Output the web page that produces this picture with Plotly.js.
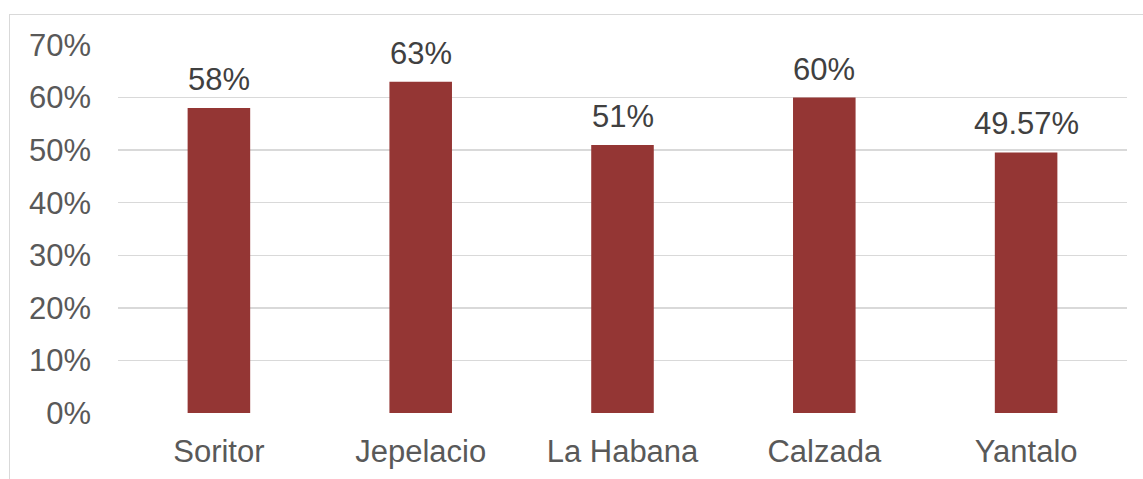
<!DOCTYPE html>
<html>
<head>
<meta charset="utf-8">
<script src="https://cdn.plot.ly/plotly-3.0.1.min.js"></script>
<style>
  html, body { margin: 0; padding: 0; background: #ffffff; overflow: hidden; }
  #frame { position: absolute; left: 9px; top: 14px; width: 1200px; height: 500px;
           border-left: 1.5px solid #d9d9d9; border-top: 1.5px solid #d9d9d9; }
  #chart { position: absolute; left: 0; top: 0; width: 1143px; height: 479px; }
</style>
</head>
<body>
<div id="frame"></div>
<div id="chart"></div>
<script>
const categories = ["Soritor", "Jepelacio", "La Habana", "Calzada", "Yantalo"];
const values = [58, 63, 51, 60, 49.57];
const valueLabels = ["58%", "63%", "51%", "60%", "49.57%"];
const tickValues = [0, 10, 20, 30, 40, 50, 60, 70];
const tickLabels = ["0%", "10%", "20%", "30%", "40%", "50%", "60%", "70%"];

const FONT = "'Liberation Sans', Arial, sans-serif";

const trace = {
  type: "bar",
  x: categories,
  y: values,
  marker: { color: "#943634" },
  hoverinfo: "none"
};

const annotations = categories.map((c, i) => ({
  x: c, y: values[i], xref: "x", yref: "y",
  text: valueLabels[i],
  showarrow: false,
  yanchor: "bottom",
  yshift: 9,
  font: { family: FONT, size: 31, color: "#404040" }
}));

const layout = {
  width: 1143, height: 479,
  margin: { l: 118, r: 16, t: 45, b: 66 },
  paper_bgcolor: "rgba(0,0,0,0)",
  plot_bgcolor: "rgba(0,0,0,0)",
  bargap: 0.69,
  showlegend: false,
  font: { family: FONT, size: 31, color: "#595959" },
  xaxis: {
    type: "category",
    showgrid: false, zeroline: false, showline: false,
    ticks: "", ticklabelstandoff: 17,
    tickfont: { family: FONT, size: 31, color: "#595959" }
  },
  yaxis: {
    range: [0, 70],
    tickvals: tickValues,
    ticktext: tickLabels,
    showgrid: true, gridcolor: "#d9d9d9", gridwidth: 1.5,
    zeroline: false, showline: false,
    ticks: "", ticklabelstandoff: 26,
    tickfont: { family: FONT, size: 31, color: "#595959" }
  },
  annotations: annotations
};

Plotly.newPlot("chart", [trace], layout, { staticPlot: true, displayModeBar: false });
</script>
</body>
</html>
